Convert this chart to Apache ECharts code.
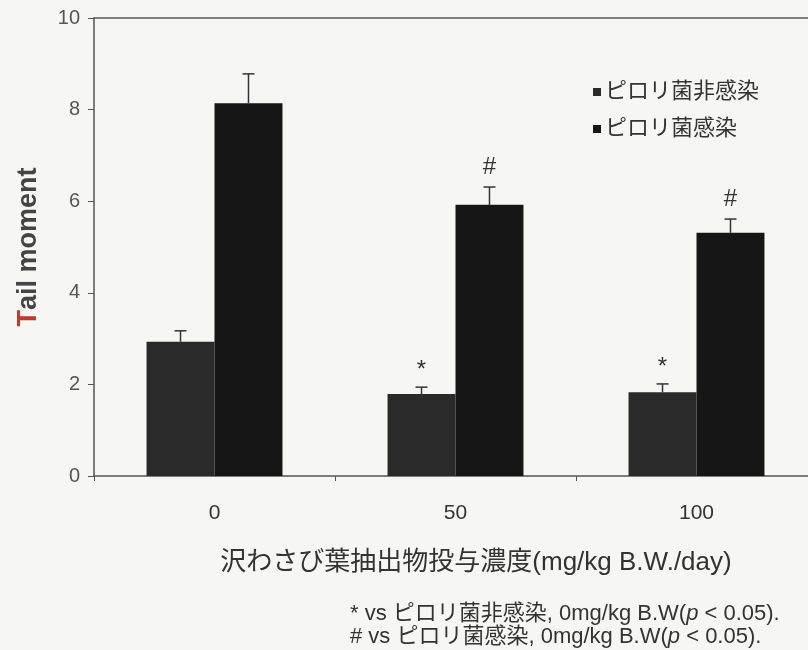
<!DOCTYPE html>
<html>
<head>
<meta charset="utf-8">
<script src="https://cdn.jsdelivr.net/npm/echarts@6/dist/echarts.min.js"></script>
<style>
  html, body { margin: 0; padding: 0; background: #f6f6f3; }
  #chart { width: 808px; height: 650px; }
</style>
</head>
<body>
<div id="chart"></div>
<script>
// data
const doses = ['0', '50', '100'];
const seriesNames = ['ピロリ菌非感染', 'ピロリ菌感染'];
const uninfected = [2.93, 1.79, 1.83];
const infected = [8.14, 5.92, 5.31];
const uninfectedSd = [0.24, 0.15, 0.18];
const infectedSd = [0.64, 0.39, 0.30];
const uninfectedMarks = ['', '*', '*'];
const infectedMarks = ['', '#', '#'];
const yTicks = [0, 2, 4, 6, 8, 10];

const font = "'Liberation Sans', 'Noto Sans CJK JP', sans-serif";
const barCatGap = 0.436;

const chart = echarts.init(document.getElementById('chart'));

// upper error bar with a cap, and the significance mark above it
function errorSeries(name, means, sds, marks, side) {
  return {
    name: name + '-err',
    type: 'custom',
    z: 5,
    data: means.map((m, i) => [i, m, m + sds[i], marks[i]]),
    renderItem: function (params, api) {
      const band = api.size([1, 0])[0];
      const barW = band * (1 - barCatGap) / 2;
      const base = api.coord([api.value(0), api.value(1)]);
      const top = api.coord([api.value(0), api.value(2)]);
      const x = base[0] + side * barW / 2;
      const cap = 6;
      const style = { stroke: '#333', lineWidth: 1.5 };
      const mark = api.value(3);
      return {
        type: 'group',
        children: [
          { type: 'line', shape: { x1: x, y1: base[1], x2: x, y2: top[1] }, style: style },
          { type: 'line', shape: { x1: x - cap, y1: top[1], x2: x + cap, y2: top[1] }, style: style },
          {
            type: 'text',
            style: {
              text: mark,
              x: x, y: top[1] - (mark === '#' ? 8 : 5),
              align: 'center', verticalAlign: 'bottom',
              fontSize: 24, fontFamily: font, fill: '#333'
            }
          }
        ]
      };
    }
  };
}

const option = {
  backgroundColor: '#f6f6f3',
  animation: false,
  textStyle: { fontFamily: font },
  grid: { left: 94, top: 18, bottom: 174, width: 723, outerBoundsMode: 'none', containLabel: false },
  legend: {
    data: seriesNames,
    orient: 'vertical',
    left: 588,
    top: 76,
    itemWidth: 8,
    itemHeight: 8,
    itemGap: 15,
    icon: 'rect',
    textStyle: { fontSize: 22, color: '#333', fontFamily: font, padding: [0, 0, 0, -1] }
  },
  title: {
    left: 345,
    top: 597,
    text: '* vs ピロリ菌非感染, 0mg/kg B.W({i|p} < 0.05).\n# vs ピロリ菌感染, 0mg/kg B.W({i|p} < 0.05).',
    textStyle: {
      fontSize: 22, fontWeight: 'normal', color: '#333', lineHeight: 23, fontFamily: font,
      rich: { i: { fontSize: 22, fontStyle: 'italic', color: '#333', fontFamily: font, lineHeight: 23 } }
    }
  },
  xAxis: [{
    type: 'category',
    data: doses,
    axisLine: { lineStyle: { color: '#555', width: 1.5 } },
    axisTick: { show: true, length: 5, inside: false, lineStyle: { color: '#555' } },
    axisLabel: { fontSize: 21, color: '#333', margin: 27 },
    name: '沢わさび葉抽出物投与濃度(mg/kg B.W./day)',
    nameLocation: 'middle',
    nameGap: 74,
    nameTextStyle: { fontSize: 26, color: '#333', padding: [0, 0, 0, 41] }
  }, {
    type: 'category',
    position: 'top',
    data: doses,
    axisLine: { show: true, lineStyle: { color: '#555', width: 1.5 } },
    axisTick: { show: false },
    axisLabel: { show: false }
  }],
  yAxis: {
    type: 'value',
    min: yTicks[0],
    max: yTicks[yTicks.length - 1],
    interval: 2,
    splitLine: { show: false },
    axisLine: { show: true, lineStyle: { color: '#555', width: 1.5 } },
    axisTick: { show: true, length: 6, lineStyle: { color: '#555' } },
    axisLabel: { fontSize: 20, color: '#555', margin: 14 },
    name: '{r|T}ail moment',
    nameLocation: 'middle',
    nameRotate: 90,
    nameGap: 52,
    nameTextStyle: {
      fontSize: 27, fontWeight: 'bold', color: '#444',
      rich: { r: { fontSize: 27, fontWeight: 'bold', color: '#c0392b' } }
    }
  },
  series: [
    {
      name: seriesNames[0],
      type: 'bar',
      data: uninfected,
      barGap: '0%',
      barCategoryGap: (barCatGap * 100) + '%',
      itemStyle: { color: '#2a2a2a' }
    },
    {
      name: seriesNames[1],
      type: 'bar',
      data: infected,
      itemStyle: { color: '#161616' }
    },
    errorSeries(seriesNames[0], uninfected, uninfectedSd, uninfectedMarks, -1),
    errorSeries(seriesNames[1], infected, infectedSd, infectedMarks, 1)
  ]
};

chart.setOption(option);
</script>
</body>
</html>
